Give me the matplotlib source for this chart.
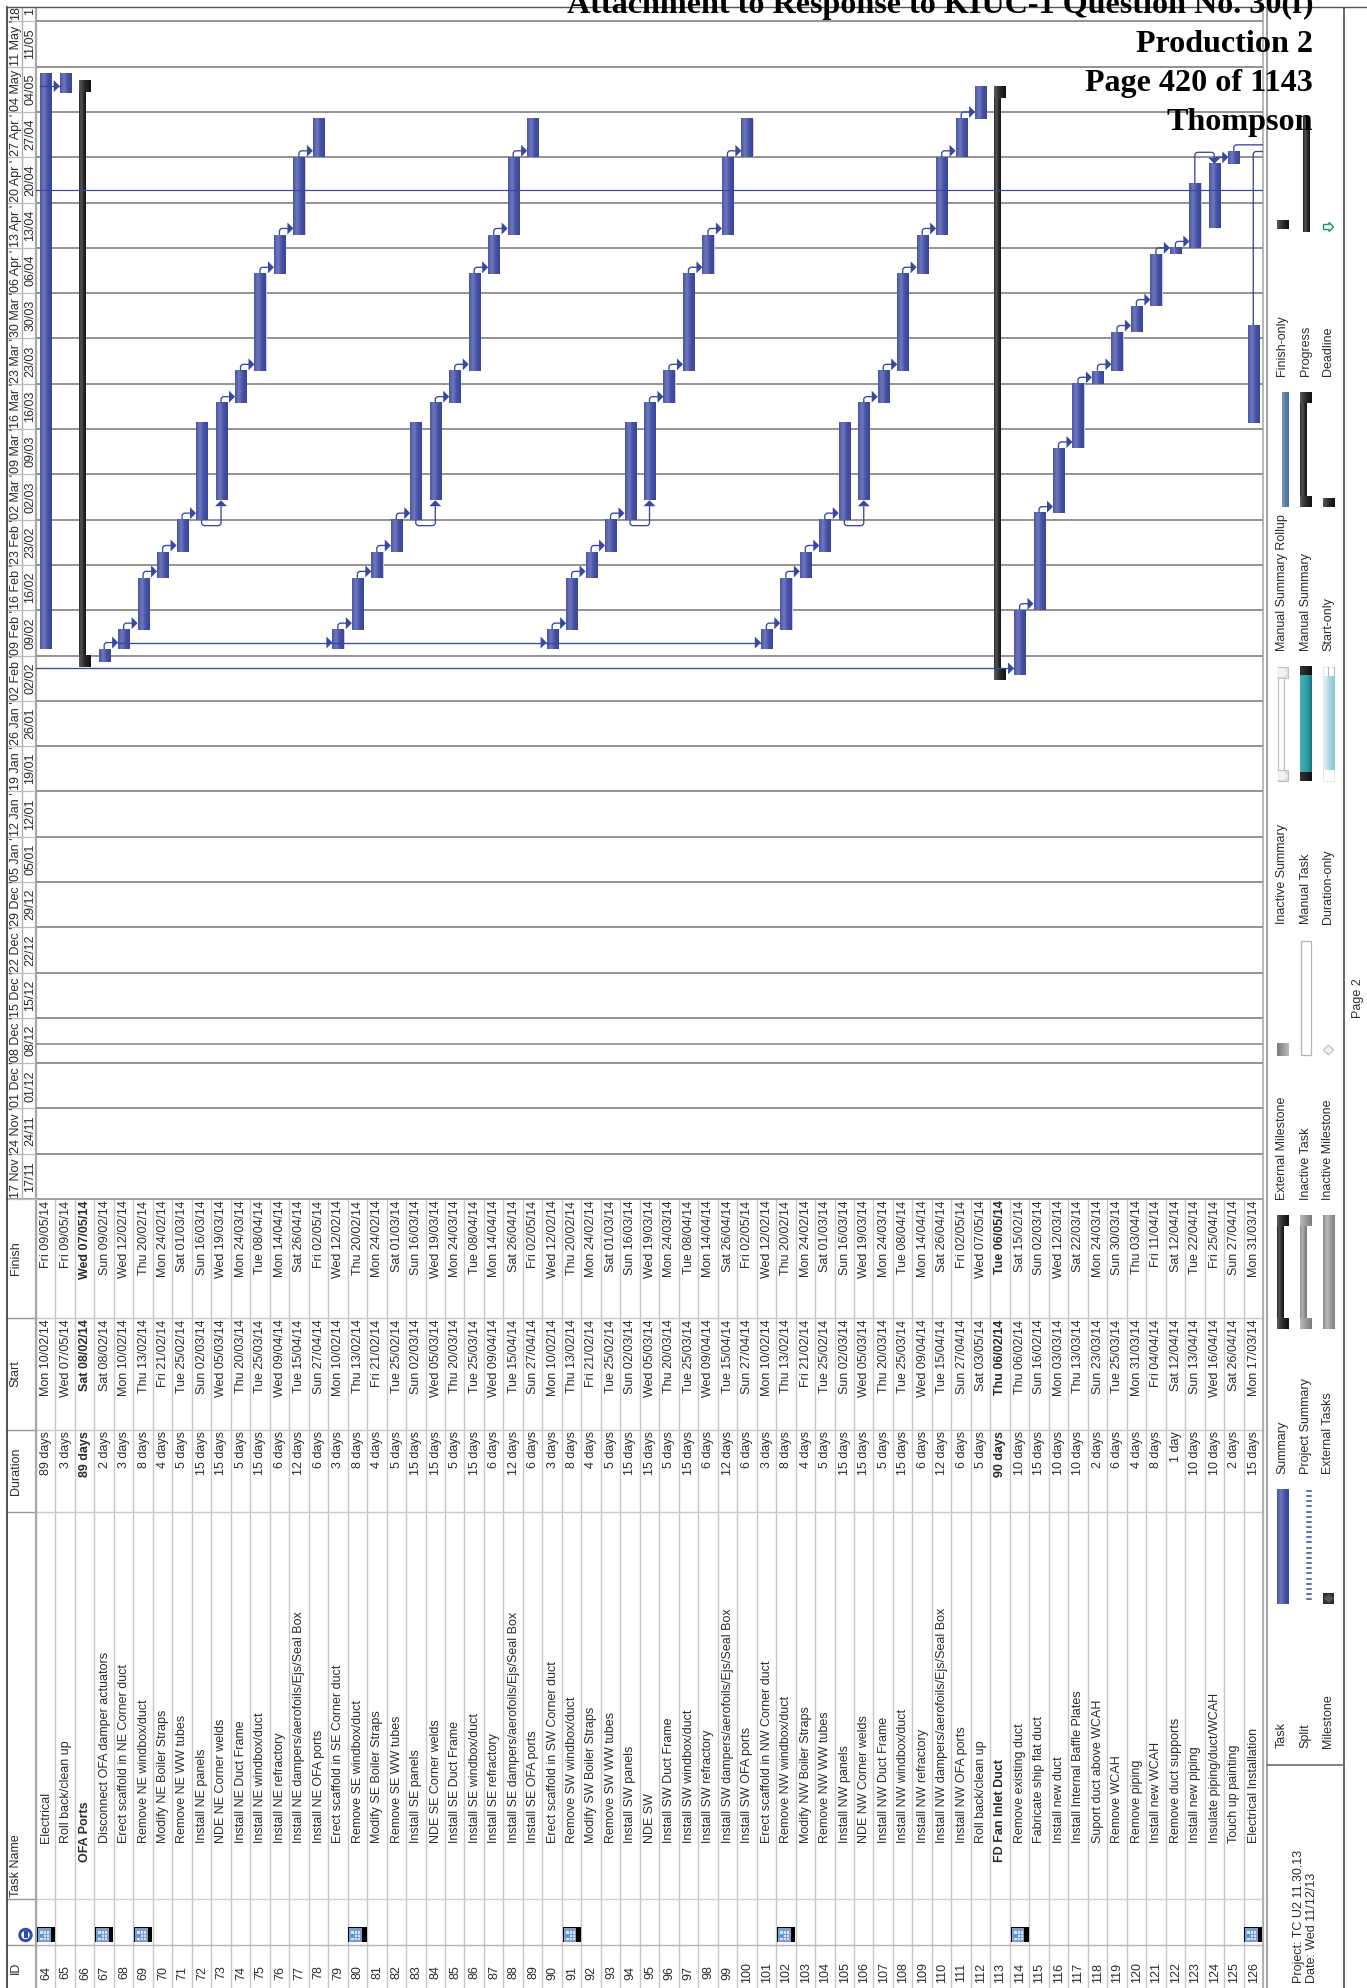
import numpy as np
import pandas as pd
import matplotlib
matplotlib.use('Agg')
import matplotlib.pyplot as plt
from matplotlib.colors import LinearSegmentedColormap
from matplotlib.patches import Rectangle, Polygon, Circle, PathPatch
from matplotlib.path import Path

W, H = 1367, 1988
plt.rcParams['font.family'] = ['Liberation Sans', 'DejaVu Sans']

task_ids = list(range(64, 127))
task_names = [
    'Electrical', 'Roll back/clean up', 'OFA Ports', 'Disconnect OFA damper actuators',
    'Erect scaffold in NE Corner duct', 'Remove NE windbox/duct', 'Modify NE Boiler Straps', 'Remove NE WW tubes',
    'Install NE panels', 'NDE NE Corner welds', 'Install NE Duct Frame', 'Install NE windbox/duct',
    'Install NE refractory', 'Install NE dampers/aerofoils/Ejs/Seal Box', 'Install NE OFA ports',
    'Erect scaffold in SE Corner duct', 'Remove SE windbox/duct', 'Modify SE Boiler Straps', 'Remove SE WW tubes',
    'Install SE panels', 'NDE SE Corner welds', 'Install SE Duct Frame', 'Install SE windbox/duct',
    'Install SE refractory', 'Install SE dampers/aerofoils/Ejs/Seal Box', 'Install SE OFA ports',
    'Erect scaffold in SW Corner duct', 'Remove SW windbox/duct', 'Modify SW Boiler Straps', 'Remove SW WW tubes',
    'Install SW panels', 'NDE SW', 'Install SW Duct Frame', 'Install SW windbox/duct',
    'Install SW refractory', 'Install SW dampers/aerofoils/Ejs/Seal Box', 'Install SW OFA ports',
    'Erect scaffold in NW Corner duct', 'Remove NW windbox/duct', 'Modify NW Boiler Straps', 'Remove NW WW tubes',
    'Install NW panels', 'NDE NW Corner welds', 'Install NW Duct Frame', 'Install NW windbox/duct',
    'Install NW refractory', 'Install NW dampers/aerofoils/Ejs/Seal Box', 'Install NW OFA ports',
    'Roll back/clean up', 'FD Fan Inlet Duct', 'Remove existing duct', 'Fabricate ship flat duct',
    'Install new duct', 'Install Internal Baffle Plates', 'Suport duct above WCAH', 'Remove WCAH',
    'Remove piping', 'Install new WCAH', 'Remove duct supports', 'Install new piping',
    'Insulate piping/duct/WCAH', 'Touch up painting', 'Electrical Installation',
]
durations = [
    '89 days', '3 days', '89 days', '2 days',
    '3 days', '8 days', '4 days', '5 days', '15 days', '15 days', '5 days', '15 days', '6 days', '12 days', '6 days',
    '3 days', '8 days', '4 days', '5 days', '15 days', '15 days', '5 days', '15 days', '6 days', '12 days', '6 days',
    '3 days', '8 days', '4 days', '5 days', '15 days', '15 days', '5 days', '15 days', '6 days', '12 days', '6 days',
    '3 days', '8 days', '4 days', '5 days', '15 days', '15 days', '5 days', '15 days', '6 days', '12 days', '6 days',
    '5 days', '90 days', '10 days', '15 days', '10 days', '10 days', '2 days', '6 days', '4 days', '8 days',
    '1 day', '10 days', '10 days', '2 days', '15 days',
]
starts = [
    'Mon 10/02/14', 'Wed 07/05/14', 'Sat 08/02/14', 'Sat 08/02/14',
    'Mon 10/02/14', 'Thu 13/02/14', 'Fri 21/02/14', 'Tue 25/02/14', 'Sun 02/03/14', 'Wed 05/03/14',
    'Thu 20/03/14', 'Tue 25/03/14', 'Wed 09/04/14', 'Tue 15/04/14', 'Sun 27/04/14',
    'Mon 10/02/14', 'Thu 13/02/14', 'Fri 21/02/14', 'Tue 25/02/14', 'Sun 02/03/14', 'Wed 05/03/14',
    'Thu 20/03/14', 'Tue 25/03/14', 'Wed 09/04/14', 'Tue 15/04/14', 'Sun 27/04/14',
    'Mon 10/02/14', 'Thu 13/02/14', 'Fri 21/02/14', 'Tue 25/02/14', 'Sun 02/03/14', 'Wed 05/03/14',
    'Thu 20/03/14', 'Tue 25/03/14', 'Wed 09/04/14', 'Tue 15/04/14', 'Sun 27/04/14',
    'Mon 10/02/14', 'Thu 13/02/14', 'Fri 21/02/14', 'Tue 25/02/14', 'Sun 02/03/14', 'Wed 05/03/14',
    'Thu 20/03/14', 'Tue 25/03/14', 'Wed 09/04/14', 'Tue 15/04/14', 'Sun 27/04/14',
    'Sat 03/05/14', 'Thu 06/02/14', 'Thu 06/02/14', 'Sun 16/02/14', 'Mon 03/03/14', 'Thu 13/03/14',
    'Sun 23/03/14', 'Tue 25/03/14', 'Mon 31/03/14', 'Fri 04/04/14', 'Sat 12/04/14', 'Sun 13/04/14',
    'Wed 16/04/14', 'Sat 26/04/14', 'Mon 17/03/14',
]
finishes = [
    'Fri 09/05/14', 'Fri 09/05/14', 'Wed 07/05/14', 'Sun 09/02/14',
    'Wed 12/02/14', 'Thu 20/02/14', 'Mon 24/02/14', 'Sat 01/03/14', 'Sun 16/03/14', 'Wed 19/03/14',
    'Mon 24/03/14', 'Tue 08/04/14', 'Mon 14/04/14', 'Sat 26/04/14', 'Fri 02/05/14',
    'Wed 12/02/14', 'Thu 20/02/14', 'Mon 24/02/14', 'Sat 01/03/14', 'Sun 16/03/14', 'Wed 19/03/14',
    'Mon 24/03/14', 'Tue 08/04/14', 'Mon 14/04/14', 'Sat 26/04/14', 'Fri 02/05/14',
    'Wed 12/02/14', 'Thu 20/02/14', 'Mon 24/02/14', 'Sat 01/03/14', 'Sun 16/03/14', 'Wed 19/03/14',
    'Mon 24/03/14', 'Tue 08/04/14', 'Mon 14/04/14', 'Sat 26/04/14', 'Fri 02/05/14',
    'Wed 12/02/14', 'Thu 20/02/14', 'Mon 24/02/14', 'Sat 01/03/14', 'Sun 16/03/14', 'Wed 19/03/14',
    'Mon 24/03/14', 'Tue 08/04/14', 'Mon 14/04/14', 'Sat 26/04/14', 'Fri 02/05/14',
    'Wed 07/05/14', 'Tue 06/05/14', 'Sat 15/02/14', 'Sun 02/03/14', 'Wed 12/03/14', 'Sat 22/03/14',
    'Mon 24/03/14', 'Sun 30/03/14', 'Thu 03/04/14', 'Fri 11/04/14', 'Sat 12/04/14', 'Tue 22/04/14',
    'Fri 25/04/14', 'Sun 27/04/14', 'Mon 31/03/14',
]
summary_ids = [66, 113]
icon_ids = [64, 67, 69, 80, 91, 102, 114, 126]

week_top = ["17 Nov '", "24 Nov '", "01 Dec '", "08 Dec '", "15 Dec '", "22 Dec '", "29 Dec '",
            "05 Jan '", "12 Jan '", "19 Jan '", "26 Jan '", "02 Feb '", "09 Feb '", "16 Feb '",
            "23 Feb '", "02 Mar '", "09 Mar '", "16 Mar '", "23 Mar '", "30 Mar '", "06 Apr '",
            "13 Apr '", "20 Apr '", "27 Apr '", "04 May '", "11 May '", "18"]
week_sub = ['17/11', '24/11', '01/12', '08/12', '15/12', '22/12', '29/12', '05/01', '12/01', '19/01', '26/01',
            '02/02', '09/02', '16/02', '23/02', '02/03', '09/03', '16/03', '23/03', '30/03', '06/04', '13/04',
            '20/04', '27/04', '04/05', '11/05', '1']

fs_links = [(67, 68), (68, 69), (69, 70), (70, 71), (71, 72), (73, 74), (74, 75), (75, 76), (76, 77), (77, 78),
            (79, 80), (80, 81), (81, 82), (82, 83), (84, 85), (85, 86), (86, 87), (87, 88), (88, 89),
            (90, 91), (91, 92), (92, 93), (93, 94), (95, 96), (96, 97), (97, 98), (98, 99), (99, 100),
            (101, 102), (102, 103), (103, 104), (104, 105), (106, 107), (107, 108), (108, 109), (109, 110),
            (110, 111), (111, 112), (114, 115), (115, 116), (116, 117), (117, 118),
            (118, 119), (119, 120), (120, 121), (121, 122), (122, 123), (124, 125)]
ss_links = [(72, 73), (83, 84), (94, 95), (105, 106)]
flat_links = [(64, 65), (68, 79), (79, 90), (90, 101), (None, 114)]
ff_links = [(123, 124)]
status_date = "11/12/13"
blue_line_date = "22/04/14"

legend_rows = [
    ('Task', 'Split', 'Milestone'),
    ('Summary', 'Project Summary', 'External Tasks'),
    ('External Milestone', 'Inactive Task', 'Inactive Milestone'),
    ('Inactive Summary', 'Manual Task', 'Duration-only'),
    ('Manual Summary Rollup', 'Manual Summary', 'Start-only'),
    ('Finish-only', 'Progress', 'Deadline'),
]
stamp_lines = ['Attachment to Response to KIUC-1 Question No. 30(f)', 'Production 2', 'Page 420 of 1143', 'Thompson']

origin = pd.Timestamp('2013-11-17')
start_day = np.array([(pd.to_datetime(s, format='%a %d/%m/%y') - origin).days for s in starts], dtype=float)
finish_day = np.array([(pd.to_datetime(s, format='%a %d/%m/%y') - origin).days for s in finishes], dtype=float) + 1.0

DAY = 6.47
ROW = (1263 - 36) / 63
TEXT = '#2b2b2b'
BLUE = '#3a47a0'
blue_stops = ['#4a56a8', '#7078bb', '#4551a4', '#39459b']
black_stops = ['#2a2a2a', '#585858', '#2a2a2a', '#151515']
cap_stops = ['#5a5a5a', '#2a2a2a', '#111111']

fig = plt.figure(figsize=((W + 0.01) / 100, (H + 0.01) / 100), dpi=100)
page = fig.add_axes([0, 0, 1, 1], zorder=1)
page.set_xlim(0, W)
page.set_ylim(H, 0)
page.set_autoscale_on(False)
page.axis('off')

gantt = fig.add_axes([36 / W, 1 - 1199 / H, (1263 - 36) / W, (1199 - 8) / H], zorder=1.5)
gantt.set_xlim(0, 63)
gantt.set_ylim(0, (1199 - 8) / DAY)
gantt.set_autoscale_on(False)
gantt.patch.set_alpha(0)
gantt.axis('off')
PX = 1 / ROW
PY = 1 / DAY


def grad(ax, x0, x1, y0, y1, stops, zorder=3):
    cmap = LinearSegmentedColormap.from_list('g', stops)
    ax.imshow(np.linspace(0, 1, 32).reshape(1, -1), extent=(x0, x1, y0, y1), cmap=cmap, aspect='auto',
              interpolation='bilinear', zorder=zorder)


def rot(x, y, s, ha='center', va='bottom', size=9.0, weight='normal', color=TEXT, ax=page):
    return ax.text(x + 2.6, y, s, rotation=90, ha=ha, va=va, fontsize=size, fontweight=weight, color=color)


def route(points, radius=3.0):
    # polyline with rounded corners, in gantt coordinates
    pts = [np.array([p[0] / PX, p[1] / PY]) for p in points]
    verts = [pts[0]]
    codes = [Path.MOVETO]
    for a, b, c in zip(pts[:-2], pts[1:-1], pts[2:]):
        r = min(radius, np.linalg.norm(b - a) / 2, np.linalg.norm(c - b) / 2)
        verts += [b - (b - a) / np.linalg.norm(b - a) * r, b, b + (c - b) / np.linalg.norm(c - b) * r]
        codes += [Path.LINETO, Path.CURVE3, Path.CURVE3]
    verts.append(pts[-1])
    codes.append(Path.LINETO)
    verts = [(v[0] * PX, v[1] * PY) for v in verts]
    gantt.add_patch(PathPatch(Path(verts, codes), fc='none', ec=BLUE, lw=0.95, zorder=5))


def idx(task):
    return task_ids.index(task)


# table frame
for k in range(64):
    x = 36 + k * ROW
    page.plot([x, x], [1199, H], color='#c6c6c6', lw=1.0, zorder=1)
for y, c in [(1318, '#c8c8c8'), (1430, '#c8c8c8'), (1512, '#c8c8c8'), (1899, '#cfcfcf'), (1945, '#b4b4b4')]:
    page.plot([36, 1263], [y, y], color=c, lw=1.0, zorder=1)
    page.plot([7, 36], [y, y], color='#9a9a9a', lw=1.0, zorder=1)
page.plot([7, 1263], [1199, 1199], color='#8f8f8f', lw=1.2, zorder=1)
page.plot([36, 36], [8, H], color='#a8a8a8', lw=1.6, zorder=1)
page.plot([21.7, 21.7], [8, 1199], color='#b0b0b0', lw=1.0, zorder=1)
page.plot([7, 7], [7.5, H], color='#333333', lw=1.2, zorder=2)
page.plot([7, W], [7.5, 7.5], color='#555555', lw=1.0, zorder=2)
page.plot([1263, 1263], [8, H], color='#a6a6a6', lw=1.1, zorder=2)
page.plot([1267, 1267], [8, H], color='#9a9a9a', lw=1.3, zorder=2)
page.plot([1344, 1344], [8, H], color='#3c3c3c', lw=1.1, zorder=2)
page.plot([1267, 1344], [1765, 1765], color='#777777', lw=1.3, zorder=2)

# header row
for (y, s) in [(1258, 'Finish'), (1374, 'Start'), (1471, 'Duration'), (1968, 'ID')]:
    rot(13, y, s, va='center')
rot(13, 1897, 'Task Name')
page.add_patch(Circle((25.5, 1935), 7.2, fc='#2f4cae', ec='none', zorder=3))
page.add_patch(Circle((25.5, 1935), 4.2, fc='white', ec='none', zorder=3))
page.add_patch(Rectangle((23.5, 1931), 4, 7, fc='#2f4cae', ec='none', zorder=4))

# table body
for i, tid in enumerate(task_ids):
    xc = 36 + (i + 0.5) * ROW - 2.2
    bold = tid in summary_ids
    w = 'bold' if bold else 'normal'
    rot(xc, 1972.5, str(tid), va='center')
    rot(xc, 1861.5 if bold else 1843, task_names[i], weight=w)
    rot(xc, 1431, durations[i], va='top', weight=w)
    rot(xc, 1319.5, starts[i], va='top', weight=w)
    rot(xc, 1200.5, finishes[i], va='top', weight=w)
    if tid in icon_ids:
        x0 = 36 + i * ROW + 0.7
        page.add_patch(Rectangle((x0, 1927), 18.2, 15.5, fc='black', ec='none', zorder=3))
        page.add_patch(Rectangle((x0 + 1, 1928.5), 12.8, 14, fc='#7f9cd2', ec='none', zorder=3))
        page.add_patch(Rectangle((x0 + 3, 1931), 9, 9.5, fc='#d9e4f4', ec='none', zorder=3))
        for g in range(1, 3):
            page.plot([x0 + 3 + g * 3, x0 + 3 + g * 3], [1931, 1940.5], color='#7f9cd2', lw=0.7, zorder=4)
            page.plot([x0 + 3, x0 + 12], [1931 + g * 3.2, 1931 + g * 3.2], color='#7f9cd2', lw=0.7, zorder=4)
        page.add_patch(Rectangle((x0 + 3, 1934.2), 3, 3.2, fc='#29a9df', ec='none', zorder=4))

# timescale
for k, (top, sub) in enumerate(zip(week_top, week_sub)):
    y = 1199 - k * 7 * DAY
    if y > 8:
        page.plot([7, 36], [y, y], color='#bdbdbd', lw=0.9, zorder=1)
    clip_top = max(y - 7 * DAY, 8)
    box = Rectangle((7, clip_top), 29, y - clip_top, transform=page.transData)
    t1 = rot(13, y - 1, top, va='bottom', size=9.0)
    t2 = rot(27.5, max(y - 3.5 * DAY, 11.5), sub, va='center', size=9.0)
    for t in (t1, t2):
        t.set_clip_path(box)
        t.set_clip_on(True)

# week gridlines
for k in range(1, 26 + 1):
    gantt.axhline(k * 7, color='#8e8e8e', lw=1.35, zorder=1)
status_day = (pd.to_datetime(status_date, format='%d/%m/%y') - origin).days
gantt.axhline(status_day, color='#8e8e8e', lw=1.2, zorder=1)
blue_day = (pd.to_datetime(blue_line_date, format='%d/%m/%y') - origin).days - 0.1
gantt.axhline(blue_day, color=BLUE, lw=0.85, zorder=6)

# bars
half = 5.5 * PX
for i, tid in enumerate(task_ids):
    c = i + 0.5
    if tid in summary_ids:
        grad(gantt, c - 5.7 * PX, c + 0.3 * PX, start_day[i], finish_day[i], black_stops)
        for d in (start_day[i], finish_day[i]):
            grad(gantt, c - 5.7 * PX, c + 5.3 * PX, d - 5.5 * PY, d + 5.5 * PY, cap_stops, zorder=4)
    else:
        gantt.add_patch(Rectangle((c + half, start_day[i]), 1.2 * PX, finish_day[i] - start_day[i],
                                  fc='#c9ccdc', ec='none', zorder=2))
        grad(gantt, c - half, c + half, start_day[i], finish_day[i], blue_stops)

# links


def arrow_right(x_tip, y):
    gantt.add_patch(Polygon([(x_tip, y), (x_tip - 6 * PX, y + 6 * PY), (x_tip - 6 * PX, y - 6 * PY)],
                            fc=BLUE, ec='none', zorder=6))


for a, b in fs_links:
    ia, ib = idx(a), idx(b)
    tip = ib + 0.5 - half
    y = start_day[ib] + 6.5 * PY
    route([(ia + 0.5, finish_day[ia]), (ia + 0.5, y), (tip - 5 * PX, y)])
    arrow_right(tip, y)
for a, b in flat_links:
    ib = idx(b)
    tip = ib + 0.5 - half
    y = start_day[ib] + 6.5 * PY
    x0 = 0 if a is None else idx(a) + 0.5 - half
    gantt.plot([x0, tip], [y, y], color=BLUE, lw=0.95, zorder=5)
    arrow_right(tip, y)
for a, b in ss_links:
    ia, ib = idx(a), idx(b)
    y = start_day[ia] - 6 * PY
    route([(ia + 0.5, start_day[ia]), (ia + 0.5, y), (ib + 0.5, y), (ib + 0.5, start_day[ib] - 6 * PY)])
    gantt.add_patch(Polygon([(ib + 0.5, start_day[ib]), (ib + 0.5 - 6 * PX, start_day[ib] - 6 * PY),
                             (ib + 0.5 + 6 * PX, start_day[ib] - 6 * PY)], fc=BLUE, ec='none', zorder=6))
for a, b in ff_links:
    ia, ib = idx(a), idx(b)
    y = finish_day[ib] + 11.5 * PY
    route([(ia + 0.5, finish_day[ia]), (ia + 0.5, y), (ib + 0.5, y), (ib + 0.5, finish_day[ib] + 5 * PY)])
    gantt.add_patch(Polygon([(ib + 0.5, finish_day[ib]), (ib + 0.5 - 6 * PX, finish_day[ib] + 6 * PY),
                             (ib + 0.5 + 6 * PX, finish_day[ib] + 6 * PY)], fc=BLUE, ec='none', zorder=6))
# links leaving the page
route([(idx(125) + 0.5, finish_day[idx(125)]), (idx(125) + 0.5, finish_day[idx(125)] + 6 * PY), (63, finish_day[idx(125)] + 6 * PY)])
route([(idx(126) + 0.5, finish_day[idx(126)]), (idx(126) + 0.5, finish_day[idx(125)] - 0.1), (63, finish_day[idx(125)] - 0.1)])

# legend
row_x = [1282.5, 1306, 1328.5]
text_y = [1748, 1474, 1200, 924, 651, 376]
for col, labels in enumerate(legend_rows):
    for r, s in enumerate(labels):
        rot(row_x[r] - 3, text_y[col], s, size=9.0)

grad(page, 1277, 1288, 1490, 1604, blue_stops)
page.add_patch(Rectangle((1288, 1491), 1.2, 113, fc='#c9ccdc', ec='none', zorder=2))
for y in np.arange(1491, 1604, 5.15):
    page.plot([1307, 1311], [y, y], color=BLUE, lw=1.1, zorder=3)
page.add_patch(Rectangle((1323, 1593), 11, 11, fc='#2e2e2e', ec='none', zorder=3))
page.add_patch(Polygon([(1323.5, 1598.5), (1329, 1594), (1333.5, 1598.5), (1329, 1603)], fc='#555555', ec='none', zorder=4))


def bracket(x, y0, y1, stops, cap, core_w=6, cap_w=11, cap_h=10):
    grad(page, x, x + core_w, y0, y1, stops)
    grad(page, x, x + cap_w, y0, y0 + cap_h, cap, zorder=4)
    grad(page, x, x + cap_w, y1 - cap_h, y1, cap, zorder=4)


bracket(1277, 1216, 1329, black_stops, cap_stops)
bracket(1300, 1216, 1329, ['#8a8a8a', '#b4b4b4', '#8e8e8e', '#787878'], ['#b8b8b8', '#9a9a9a', '#7c7c7c'])
grad(page, 1323, 1334, 1216, 1329, ['#8a8a8a', '#b8b8b8', '#9a9a9a', '#808080'])
grad(page, 1277, 1288, 1044, 1056, ['#7a7a7a', '#9a9a9a', '#bcbcbc'])
page.add_patch(Rectangle((1300.5, 941), 10.5, 114, fc='white', ec='#b4b4b4', lw=0.9, zorder=3))
page.add_patch(Polygon([(1323.5, 1050), (1328.5, 1045), (1333.5, 1050), (1328.5, 1055)], fc='#f0f0f0', ec='#c4c4c4', lw=0.9, zorder=3))

page.add_patch(Rectangle((1277.5, 667), 6, 114, fc='white', ec='#c0c0c0', lw=0.9, zorder=3))
for y0 in (667, 770):
    page.add_patch(Rectangle((1277.5, y0), 10.5, 11, fc='#dcdcdc', ec='#c0c0c0', lw=0.7, zorder=4))
    page.add_patch(Polygon([(1278, y0 + 1), (1284, y0 + 1), (1287.5, y0 + 5.5), (1284, y0 + 10), (1278, y0 + 10)], fc='#f2f2f2', ec='none', zorder=5))
grad(page, 1300, 1311.5, 667, 781, ['#46b0b6', '#3aa5ab', '#2b9aa0', '#1a7379'])
for y0, y1 in ((667, 675), (773, 781)):
    grad(page, 1300, 1311.5, y0, y1, ['#333333', '#222222', '#111111'], zorder=4)
grad(page, 1323.5, 1333.5, 677, 770, ['#e4f1f6', '#bfe0ea', '#9dd0df', '#8cc6d8'])
page.plot([1323, 1334, 1334, 1323, 1323], [667, 667, 781, 781, 667], color='#e6e6e6', lw=0.7, zorder=2)
page.plot([1328, 1328], [667, 676], color='#b8b8b8', lw=0.8, zorder=4)
page.plot([1333.5, 1333.5], [667, 676], color='#b8b8b8', lw=0.8, zorder=4)

grad(page, 1282, 1288, 393, 507, ['#7f9bbd', '#5c7da6', '#4e6f98'])
bracket(1300, 393, 507, black_stops, cap_stops)
grad(page, 1323, 1334, 499, 507, cap_stops)

grad(page, 1277, 1288, 221, 229, cap_stops)
grad(page, 1303, 1309, 118, 232, ['#222222', '#555555', '#2a2a2a', '#151515'])
page.add_patch(Polygon([(1323.5, 224.5), (1329, 224.5), (1329, 222.5), (1333.5, 227), (1329, 231.5), (1329, 229.5), (1323.5, 229.5)],
                       fc='white', ec='#12994f', lw=1.0, zorder=3))

# footer
rot(1296.5, 1983, 'Project: TC U2 11.30.13')
rot(1309.5, 1983, 'Date: Wed 11/12/13')
rot(1355.5, 1018, 'Page 2', color='#333333')

for k, s in enumerate(stamp_lines):
    fig.text(1313 / W, 1 - (12.5 + k * 39.2) / H, s, ha='right', va='baseline', fontsize=23.1, fontweight='bold',
             color='black', family=['Liberation Serif', 'DejaVu Serif'], zorder=5)

fig.savefig('out.png', dpi=100)
